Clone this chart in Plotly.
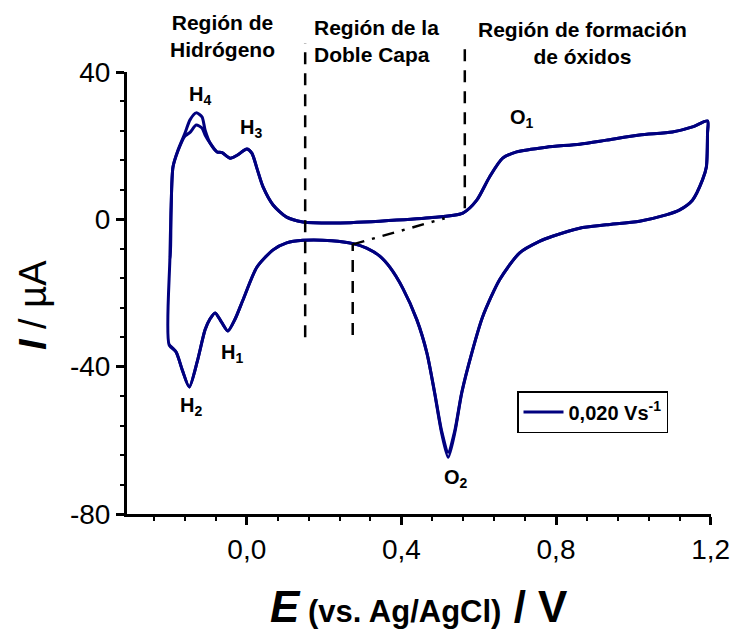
import plotly.graph_objects as go

# ---------------- data (E in V, I in µA) ----------------
# anodic (positive-going) sweep
E_anodic = [-0.201, -0.199, -0.196, -0.191, -0.178, -0.160, -0.147, -0.131, -0.116,
            -0.108, -0.095, -0.077, -0.064, -0.043, -0.025, 0.000, 0.013, 0.026,
            0.042, 0.068, 0.103, 0.145, 0.222, 0.344, 0.473, 0.559, 0.595, 0.628,
            0.662, 0.698, 0.775, 0.861, 0.930, 1.016, 1.101, 1.153, 1.192]
I_anodic_c1 = [-34.1, -10.5, 2.5, 14.2, 18.8, 23.4, 27.0, 28.9, 27.8,
               24.3, 20.7, 18.3, 18.1, 16.6, 17.4, 19.1, 18.0, 13.9,
               8.8, 3.9, 0.6, -0.7, -1.0, -0.5, 0.4, 1.7, 5.2, 11.5,
               16.6, 18.3, 19.6, 20.4, 21.5, 22.9, 23.7, 25.1, 26.7]
I_anodic_c2 = [-10.5, -10.5, 2.5, 14.2, 18.6, 22.6, 23.6, 25.6, 24.8,
               22.9, 20.7, 18.3, 18.1, 16.6, 17.4, 19.1, 18.0, 13.9,
               8.8, 3.9, 0.6, -0.7, -1.0, -0.5, 0.4, 1.7, 5.2, 11.5,
               16.6, 18.3, 19.6, 20.4, 21.5, 22.9, 23.7, 25.1, 26.7]

# cathodic (negative-going) sweep
E_cathodic = [1.192, 1.189, 1.179, 1.153, 1.119, 1.085, 1.016, 0.930, 0.861, 0.791,
              0.757, 0.706, 0.654, 0.610, 0.582, 0.556, 0.538, 0.521, 0.504, 0.486,
              0.466, 0.440, 0.404, 0.370, 0.344, 0.310, 0.275, 0.220, 0.145, 0.103,
              0.068, 0.026, -0.010, -0.030, -0.049, -0.065, -0.082, -0.095, -0.108,
              -0.128, -0.149, -0.167, -0.183, -0.201]
I_cathodic_c1 = [23.4, 14.2, 10.7, 5.2, 2.5, 1.2, -0.5, -1.5, -2.4, -4.6,
                 -6.0, -9.1, -16.4, -26.5, -36.3, -47.2, -58.0, -64.6, -58.0, -47.2,
                 -36.3, -27.3, -18.8, -13.0, -10.0, -7.8, -6.6, -5.8, -5.7, -6.4,
                 -8.3, -13.0, -21.9, -27.0, -30.3, -28.0, -25.4, -27.0, -30.0,
                 -38.5, -45.5, -40.9, -36.0, -34.1]
I_cathodic_c2 = [23.4, 14.2, 10.7, 5.2, 2.5, 1.2, -0.5, -1.5, -2.4, -4.6,
                 -6.0, -9.1, -16.4, -26.5, -36.3, -47.0, -57.4, -63.2, -57.4, -47.0,
                 -36.3, -27.3, -18.8, -13.0, -10.0, -7.8, -6.6, -5.8, -5.7, -6.4,
                 -8.3, -13.0, -21.9, -27.0, -30.3, -28.0, -25.4, -27.0, -30.0,
                 -38.5, -45.5, -40.9, -36.0, -34.1]

legend_label = "<b>0,020 Vs<sup>-1</sup></b>"

# peak labels: (text, E, I)
peak_text = ["H<sub>4</sub>", "H<sub>3</sub>", "H<sub>1</sub>", "H<sub>2</sub>",
             "O<sub>1</sub>", "O<sub>2</sub>"]
peak_E = [-0.121, 0.010, -0.038, -0.144, 0.712, 0.541]
peak_I = [33.6, 24.6, -36.4, -50.8, 27.4, -70.3]

# region labels
region_text = ["Región de<br>Hidrógeno", "Región de la<br>Doble Capa",
               "Región de formación<br>de óxidos"]

# reference lines (E, I from, I to)
region_bounds_E = [0.151, 0.564]
bound_I_low = [-32.0, 3.0]
bound_I_top = 47.9
onset_E = 0.274
onset_I = [-31.4, -6.6]
baseline_E = [0.274, 0.512]
baseline_I = [-6.8, 0.3]

X_RANGE = [-0.31, 1.201]
Y_RANGE = [-80, 40]

# layout geometry (pixels)
W, H = 736, 633
ML, MR, MT, MB = 127, 25, 72, 119
PW, PH = W - ML - MR, H - MT - MB

def px(e):
    return (e - X_RANGE[0]) / (X_RANGE[1] - X_RANGE[0])

def py(i):
    return (i - Y_RANGE[0]) / (Y_RANGE[1] - Y_RANGE[0])

def ppx(xpix):
    return (xpix - ML) / PW

def ppy(ypix):
    return (H - MB - ypix) / PH

COLOR = "#00007f"
FONT = "Liberation Sans, Arial, sans-serif"

fig = go.Figure()
fig.add_trace(go.Scatter(
    x=E_anodic + E_cathodic, y=I_anodic_c1 + I_cathodic_c1,
    mode="lines", line=dict(color=COLOR, width=3, shape="spline", smoothing=0.7),
    name=legend_label, showlegend=True))
fig.add_trace(go.Scatter(
    x=E_anodic + E_cathodic, y=I_anodic_c2 + I_cathodic_c2,
    mode="lines", line=dict(color=COLOR, width=3, shape="spline", smoothing=0.7),
    name=legend_label, showlegend=False))

shapes = []
dash = "12px,9px"
for e, lo in zip(region_bounds_E, bound_I_low):
    shapes.append(dict(type="line", xref="paper", yref="paper",
                       x0=px(e), x1=px(e), y0=py(lo), y1=py(bound_I_top),
                       line=dict(color="black", width=2.5, dash=dash)))
shapes.append(dict(type="line", xref="paper", yref="paper",
                   x0=px(onset_E), x1=px(onset_E), y0=py(onset_I[0]), y1=py(onset_I[1]),
                   line=dict(color="black", width=2.5, dash=dash)))
shapes.append(dict(type="line", xref="paper", yref="paper",
                   x0=px(baseline_E[0]), x1=px(baseline_E[1]),
                   y0=py(baseline_I[0]), y1=py(baseline_I[1]),
                   line=dict(color="black", width=2.5, dash="12px,8px,3px,8px")))

annotations = []
for t, e, i in zip(peak_text, peak_E, peak_I):
    annotations.append(dict(text="<b>" + t + "</b>", x=e, y=i, xref="x", yref="y",
                            showarrow=False, font=dict(size=20, color="black", family=FONT),
                            xanchor="center", yanchor="middle"))

# region labels (pixel positions converted to paper coordinates)
annotations.append(dict(text="<b>" + region_text[0] + "</b>", x=ppx(222), y=ppy(36),
                        xref="paper", yref="paper", showarrow=False, align="center",
                        xanchor="center", yanchor="middle",
                        font=dict(size=21, color="black", family=FONT)))
annotations.append(dict(text="<b>" + region_text[1] + "</b>", x=ppx(312), y=ppy(41),
                        xref="paper", yref="paper", showarrow=False, align="left",
                        xanchor="left", yanchor="middle",
                        font=dict(size=21, color="black", family=FONT)))
annotations.append(dict(text="<b>" + region_text[2] + "</b>", x=ppx(582), y=ppy(43),
                        xref="paper", yref="paper", showarrow=False, align="center",
                        xanchor="center", yanchor="middle",
                        font=dict(size=21, color="black", family=FONT)))

# axis titles
annotations.append(dict(
    text="<b><i>E</i></b><b><span style='font-size:31px'> (vs. Ag/AgCl)</span> / V</b>",
    x=ppx(419), y=ppy(606), xref="paper", yref="paper", showarrow=False,
    xanchor="center", yanchor="middle", font=dict(size=44, color="black", family=FONT)))
annotations.append(dict(
    text="<b><i>I</i></b> / µA", x=ppx(33), y=ppy(305), xref="paper", yref="paper",
    showarrow=False, textangle=-90, xanchor="center", yanchor="middle",
    font=dict(size=38, color="black", family=FONT)))

axis_common = dict(showline=True, linewidth=3, linecolor="black", ticks="outside",
                   ticklen=8, tickwidth=2.5, tickcolor="black", showgrid=False,
                   zeroline=False, mirror=False, automargin=False,
                   tickfont=dict(size=28, color="black", family=FONT))

fig.update_layout(
    width=W, height=H,
    margin=dict(l=ML, r=MR, t=MT, b=MB, autoexpand=False),
    paper_bgcolor="white", plot_bgcolor="white",
    separators=",.",
    font=dict(family=FONT, color="black"),
    xaxis=dict(range=X_RANGE, tick0=0, dtick=0.4, tickformat=".1f",
               minor=dict(tick0=0, dtick=0.08, ticklen=4, tickwidth=2, ticks="outside",
                          tickcolor="black", showgrid=False),
               **axis_common),
    yaxis=dict(range=Y_RANGE, tickmode="array", tickvals=[-80, -40, 0, 40],
               ticktext=["-80", "-40", "0", "40"],
               minor=dict(tick0=0, dtick=8, ticklen=4, tickwidth=2, ticks="outside",
                          tickcolor="black", showgrid=False),
               **axis_common),
    legend=dict(x=ppx(517), y=ppy(391), xanchor="left", yanchor="top",
                bordercolor="black", borderwidth=1.5, bgcolor="white",
                entrywidth=150, entrywidthmode="pixels", itemwidth=40,
                font=dict(size=20, color="black", family=FONT)),
    shapes=shapes,
    annotations=annotations,
)

fig.write_html("out.html", config={"displayModeBar": False},
               post_script="document.body.style.margin='0';document.body.style.padding='0';")
